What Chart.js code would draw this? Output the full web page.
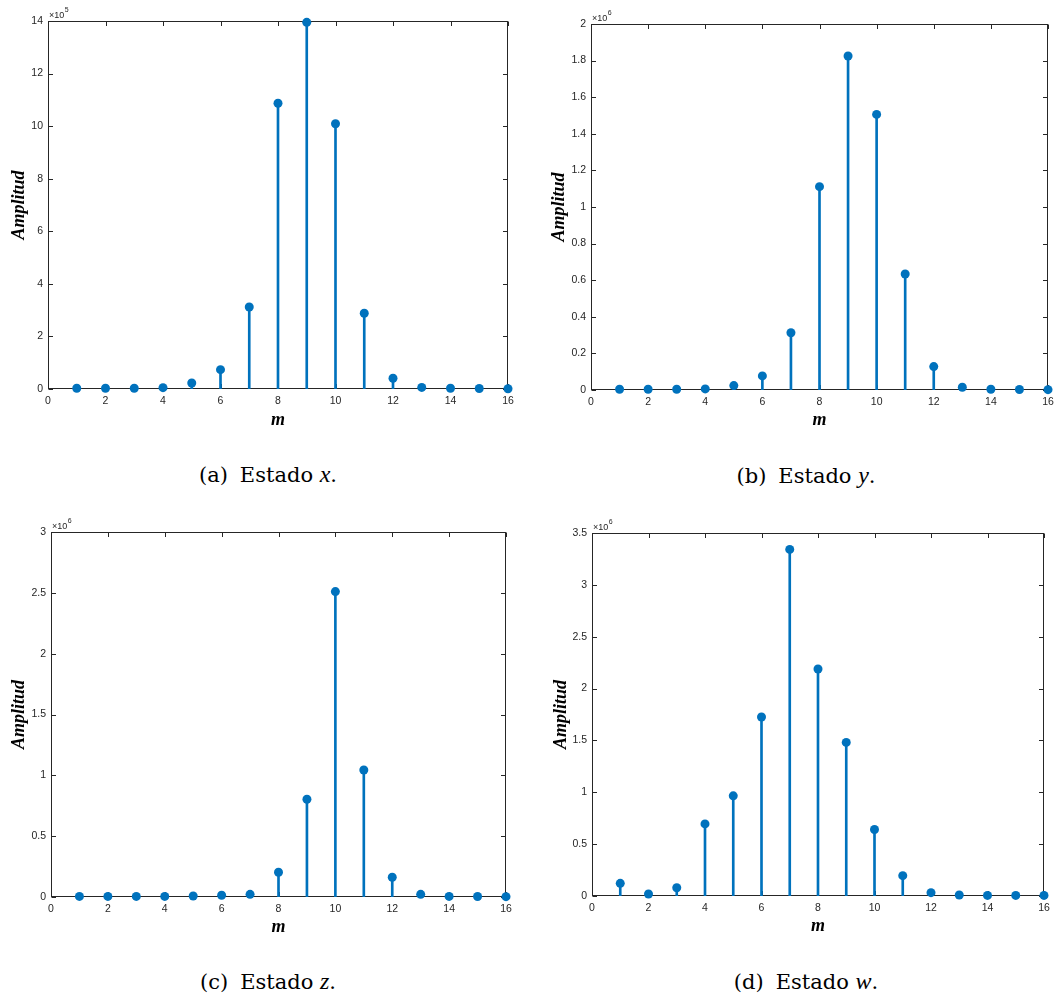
<!DOCTYPE html>
<html>
<head>
<meta charset="utf-8">
<title>Amplitud por estado</title>
<script src="https://cdn.jsdelivr.net/npm/chart.js@4.4.1/dist/chart.umd.min.js"></script>
<style>
  html, body { margin: 0; padding: 0; background: #ffffff; }
  body { width: 1060px; height: 994px; position: relative; overflow: hidden; }
  canvas { position: absolute; }
  .cap {
    position: absolute;
    font-family: "DejaVu Serif", serif;
    font-size: 21px;
    line-height: 1;
    color: #000;
    white-space: nowrap;
    transform: translateX(-50%);
  }
  .cap i { font-family: "Liberation Serif", serif; font-size: 24px; }
  .gap { display: inline-block; width: 12px; }
</style>
</head>
<body>
<canvas id="chartX"></canvas>
<canvas id="chartY"></canvas>
<canvas id="chartZ"></canvas>
<canvas id="chartW"></canvas>

<div class="cap" style="left:268px;top:462px">(a)<span class="gap"></span>Estado <i>x</i>.</div>
<div class="cap" style="left:806px;top:463px">(b)<span class="gap"></span>Estado <i>y</i>.</div>
<div class="cap" style="left:268px;top:969px">(c)<span class="gap"></span>Estado <i>z</i>.</div>
<div class="cap" style="left:806px;top:969px">(d)<span class="gap"></span>Estado <i>w</i>.</div>

<script>
// Índice m de cada componente
const m = [1, 2, 3, 4, 5, 6, 7, 8, 9, 10, 11, 12, 13, 14, 15, 16];

// Amplitudes de cada estado (en unidades del factor de escala del eje)
const ampX = [0.03, 0.03, 0.03, 0.05, 0.23, 0.735, 3.12, 10.87, 13.95, 10.09, 2.88, 0.41, 0.06, 0.03, 0.02, 0.01]; // ×10^5
const ampY = [0.004, 0.004, 0.004, 0.006, 0.024, 0.077, 0.313, 1.111, 1.825, 1.506, 0.634, 0.128, 0.015, 0.004, 0.003, 0.002]; // ×10^6
const ampZ = [0.005, 0.005, 0.005, 0.005, 0.008, 0.014, 0.022, 0.203, 0.803, 2.51, 1.044, 0.162, 0.022, 0.005, 0.004, 0.003]; // ×10^6
const ampW = [0.122, 0.019, 0.080, 0.695, 0.966, 1.726, 3.342, 2.189, 1.481, 0.641, 0.196, 0.032, 0.010, 0.006, 0.006, 0.006]; // ×10^6

// Exponentes del factor de escala
const expX = 5, expY = 6, expZ = 6, expW = 6;

// Marcas de los ejes
const xTicks = [0, 2, 4, 6, 8, 10, 12, 14, 16];
const yTicksX = [0, 2, 4, 6, 8, 10, 12, 14];
const yTicksY = [0, 0.2, 0.4, 0.6, 0.8, 1, 1.2, 1.4, 1.6, 1.8, 2];
const yTicksZ = [0, 0.5, 1, 1.5, 2, 2.5, 3];
const yTicksW = [0, 0.5, 1, 1.5, 2, 2.5, 3, 3.5];

const STEM = '#0072BD';
const AXIS = '#262626';
const TICK_FONT = { family: '"Liberation Sans", Arial, sans-serif', size: 10.5 };
const LABEL_FONT = { family: '"Liberation Serif", "Times New Roman", serif', size: 18, weight: 'bold', style: 'italic', lineHeight: 1.2 };

// Caja del eje con marcas hacia dentro en los cuatro lados y factor ×10^n
const boxPlugin = {
  id: 'boxAxes',
  beforeDatasetsDraw(chart, args, opts) {
    const { ctx, chartArea: a, scales } = chart;
    const L = Math.round(a.left) + 0.5, R = Math.round(a.right) - 0.5;
    const T = Math.round(a.top) + 0.5, B = Math.round(a.bottom) - 0.5;
    const tl = 4.5;
    ctx.save();
    ctx.strokeStyle = AXIS;
    ctx.lineWidth = 1;
    ctx.beginPath();
    scales.x.ticks.forEach(t => {
      const px = Math.round(scales.x.getPixelForValue(t.value)) + 0.5;
      ctx.moveTo(px, B); ctx.lineTo(px, B - tl);
      ctx.moveTo(px, T); ctx.lineTo(px, T + tl);
    });
    scales.y.ticks.forEach(t => {
      const py = Math.round(scales.y.getPixelForValue(t.value)) + 0.5;
      ctx.moveTo(L, py); ctx.lineTo(L + tl, py);
      ctx.moveTo(R, py); ctx.lineTo(R - tl, py);
    });
    ctx.stroke();
    ctx.strokeRect(L, T, R - L, B - T);

    // factor de escala del eje vertical
    ctx.fillStyle = AXIS;
    ctx.textBaseline = 'alphabetic';
    ctx.textAlign = 'left';
    ctx.font = '9px "Liberation Sans", Arial, sans-serif';
    const base = '\u00d710';
    ctx.fillText(base, a.left + 1, a.top - 3.5);
    const w = ctx.measureText(base).width;
    ctx.font = '7px "Liberation Sans", Arial, sans-serif';
    ctx.fillText(String(opts.exponent), a.left + 1 + w + 0.5, a.top - 9);
    ctx.restore();
  }
};

function makePanel(id, values, yTicks, exponent, lay) {
  const cv = document.getElementById(id);
  const c = lay.canvas, p = lay.plot;
  cv.width = c.w; cv.height = c.h;
  cv.style.left = c.l + 'px'; cv.style.top = c.t + 'px';
  cv.style.width = c.w + 'px'; cv.style.height = c.h + 'px';

  const lh = LABEL_FONT.size * LABEL_FONT.lineHeight;
  const yAxisW = p.l - c.l;
  const xAxisH = (c.t + c.h) - p.b;
  const yTitlePad = (lay.yTitleX - c.l) - lh / 2;
  const xTitlePad = (c.t + c.h) - lay.xTitleY - lh / 2;
  const pts = m.map((x, i) => ({ x: x, y: values[i] }));

  return new Chart(cv, {
    type: 'bar',
    data: {
      datasets: [
        {
          type: 'bar',
          data: pts,
          backgroundColor: STEM,
          borderWidth: 0,
          barThickness: 2,
          order: 2
        },
        {
          type: 'line',
          data: pts,
          showLine: false,
          pointRadius: 4.5,
          pointBackgroundColor: STEM,
          pointBorderColor: STEM,
          pointBorderWidth: 0,
          clip: false,
          order: 1
        }
      ]
    },
    options: {
      responsive: false,
      animation: false,
      devicePixelRatio: 1,
      events: [],
      layout: { padding: { left: 0, bottom: 0, top: p.t - c.t, right: (c.l + c.w) - p.r } },
      plugins: {
        legend: { display: false },
        tooltip: { enabled: false },
        boxAxes: { exponent: exponent }
      },
      scales: {
        x: {
          type: 'linear',
          min: 0, max: 16,
          offset: false,
          grid: { display: false, drawTicks: false, offset: false },
          border: { display: false },
          afterBuildTicks: s => { s.ticks = xTicks.map(v => ({ value: v })); },
          afterFit: s => { s.height = xAxisH; },
          ticks: { font: TICK_FONT, color: AXIS, padding: 6, maxRotation: 0, autoSkip: false,
                   callback: v => String(v) },
          title: { display: true, text: 'm', font: LABEL_FONT, color: '#000',
                   padding: { top: 0, bottom: xTitlePad } }
        },
        y: {
          type: 'linear',
          min: 0, max: yTicks[yTicks.length - 1],
          grid: { display: false, drawTicks: false },
          border: { display: false },
          afterBuildTicks: s => { s.ticks = yTicks.map(v => ({ value: v })); },
          afterFit: s => { s.width = yAxisW; },
          ticks: { font: TICK_FONT, color: AXIS, padding: 5, autoSkip: false,
                   callback: v => String(+v.toFixed(2)) },
          title: { display: true, text: 'Amplitud', font: LABEL_FONT, color: '#000',
                   padding: { top: yTitlePad, bottom: 0 } }
        }
      }
    },
    plugins: [boxPlugin]
  });
}

makePanel('chartX', ampX, yTicksX, expX, {
  canvas: { l: 0, t: 0, w: 530, h: 445 },
  plot: { l: 48, t: 21, r: 508, b: 389 },
  yTitleX: 19, xTitleY: 420
});
makePanel('chartY', ampY, yTicksY, expY, {
  canvas: { l: 530, t: 0, w: 530, h: 445 },
  plot: { l: 591, t: 24, r: 1048, b: 390 },
  yTitleX: 559, xTitleY: 420
});
makePanel('chartZ', ampZ, yTicksZ, expZ, {
  canvas: { l: 0, t: 500, w: 530, h: 450 },
  plot: { l: 51, t: 532, r: 506, b: 897 },
  yTitleX: 19, xTitleY: 927
});
makePanel('chartW', ampW, yTicksW, expW, {
  canvas: { l: 530, t: 500, w: 530, h: 450 },
  plot: { l: 592, t: 533, r: 1044, b: 896 },
  yTitleX: 561, xTitleY: 926
});
</script>
</body>
</html>
